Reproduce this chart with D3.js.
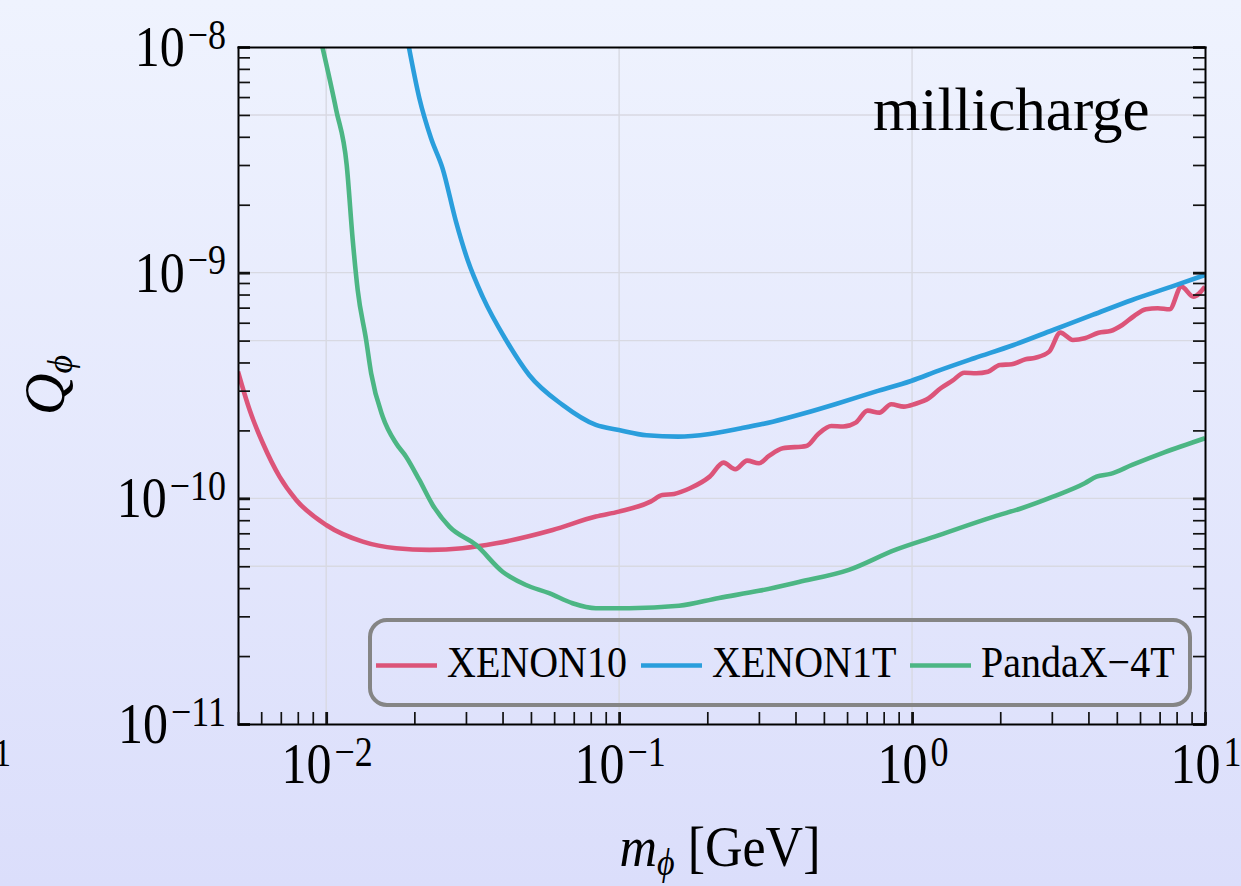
<!DOCTYPE html>
<html lang="en">
<head>
<meta charset="UTF-8">
<title>millicharge</title>
<script src="https://cdn.jsdelivr.net/npm/d3@7"></script>
<style>
body { margin: 0; }
svg { display: block; font-family: "Liberation Serif", "Times New Roman", serif; }
.grid line { stroke: #d8d9e2; stroke-width: 1.4; }
.axis path { stroke: #000; stroke-width: 2; fill: none; }
.axis line { stroke: #111; }
.curve { fill: none; stroke-width: 4.6; stroke-linejoin: round; }
</style>
</head>
<body>
<svg id="chart" width="1241" height="886"></svg>
<script>
// values (m in GeV, Q dimensionless)
var seriesNames = ["XENON10", "XENON1T", "PandaX\u22124T"];
var seriesColors = ["#dc5479", "#2a9edc", "#4cb684"];

var xenon10Mass = [0.005, 0.00548, 0.00608, 0.00693, 0.0079, 0.01, 0.01333, 0.01732, 0.0225, 0.0292, 0.038, 0.0593, 0.0833, 0.0998, 0.128, 0.1404, 0.1541, 0.1745, 0.2038, 0.2272, 0.2493, 0.2736, 0.3003, 0.3247, 0.3619, 0.4358, 0.4784, 0.5301, 0.5816, 0.6424, 0.7054, 0.7737, 0.849, 0.9376, 1.023, 1.14, 1.252, 1.374, 1.508, 1.655, 1.816, 1.994, 2.187, 2.44, 2.637, 2.939, 3.206, 3.54, 3.886, 4.331, 4.756, 5.218, 5.727, 6.285, 6.9, 7.569, 8.307, 9.124, 10];
var xenon10Q = [3.64e-10, 2.46e-10, 1.754e-10, 1.248e-10, 9.84e-11, 7.62e-11, 6.43e-11, 6.01e-11, 5.91e-11, 6.01e-11, 6.32e-11, 7.24e-11, 8.30e-11, 8.73e-11, 9.67e-11, 1.035e-10, 1.046e-10, 1.108e-10, 1.248e-10, 1.439e-10, 1.346e-10, 1.469e-10, 1.43e-10, 1.541e-10, 1.667e-10, 1.707e-10, 1.929e-10, 2.093e-10, 2.08e-10, 2.165e-10, 2.446e-10, 2.397e-10, 2.612e-10, 2.549e-10, 2.62e-10, 2.776e-10, 3.075e-10, 3.323e-10, 3.604e-10, 3.582e-10, 3.64e-10, 3.9e-10, 3.928e-10, 4.13e-10, 4.198e-10, 4.467e-10, 5.422e-10, 5.032e-10, 5.12e-10, 5.42e-10, 5.515e-10, 5.863e-10, 6.428e-10, 6.882e-10, 6.954e-10, 6.88e-10, 8.67e-10, 7.829e-10, 8.67e-10];

var xenon1tMass = [0.0191, 0.0208, 0.0228, 0.02496, 0.02774, 0.0304, 0.0342, 0.0411, 0.0493, 0.0641, 0.0833, 0.0998, 0.124, 0.159, 0.2038, 0.2612, 0.3347, 0.429, 0.55, 0.75, 0.992, 1.232, 1.63, 2.222, 3.029, 4.132, 5.637, 7.69, 10];
var xenon1tQ = [1.02e-8, 5.93e-9, 3.94e-9, 2.90e-9, 1.683e-9, 1.138e-9, 7.83e-10, 5.03e-10, 3.52e-10, 2.594e-10, 2.114e-10, 2.009e-10, 1.904e-10, 1.877e-10, 1.929e-10, 2.045e-10, 2.187e-10, 2.382e-10, 2.62e-10, 2.97e-10, 3.312e-10, 3.679e-10, 4.176e-10, 4.782e-10, 5.572e-10, 6.495e-10, 7.568e-10, 8.67e-10, 9.77e-10];

var pandaxMass = [0.00969, 0.01082, 0.01175, 0.01232, 0.01281, 0.01369, 0.01424, 0.0156, 0.01732, 0.01874, 0.0208, 0.02309, 0.02633, 0.03246, 0.04, 0.0481, 0.0577, 0.0693, 0.0833, 0.1082, 0.1602, 0.2193, 0.3, 0.4108, 0.6085, 0.876, 1.195, 1.904, 2.366, 3.029, 3.886, 4.263, 4.756, 5.637, 7.225, 10];
var pandaxQ = [1.01e-8, 5.26e-9, 3.0e-9, 1.396e-9, 8.38e-10, 5.03e-10, 3.58e-10, 2.30e-10, 1.754e-10, 1.53e-10, 1.206e-10, 9.35e-11, 7.49e-11, 6.22e-11, 4.73e-11, 4.13e-11, 3.80e-11, 3.43e-11, 3.26e-11, 3.26e-11, 3.34e-11, 3.62e-11, 3.89e-11, 4.26e-11, 4.82e-11, 5.91e-11, 6.77e-11, 8.30e-11, 9.04e-11, 1.017e-10, 1.166e-10, 1.248e-10, 1.283e-10, 1.406e-10, 1.594e-10, 1.846e-10];

var xLabelValues = [0.01, 0.1, 1, 10];
var xLabelExponents = ["\u22122", "\u22121", "0", "1"];
var yLabelValues = [1e-8, 1e-9, 1e-10, 1e-11];
var yLabelExponents = ["\u22128", "\u22129", "\u221210", "\u221211"];
var xGridValues = [0.01, 0.1, 1];
var yGridValues = [5e-9, 1e-9, 5e-10, 1e-10, 5e-11];

var W = 1241, H = 886;
var plot = { left: 238, right: 1205, top: 47, bottom: 724 };
var stretch = 1.15;

var svg = d3.select("#chart");

// background
var defs = svg.append("defs");
var grad = defs.append("linearGradient").attr("id", "bg")
  .attr("x1", 0).attr("y1", 0).attr("x2", 0).attr("y2", 1);
grad.append("stop").attr("offset", "0%").attr("stop-color", "#eff3fe");
grad.append("stop").attr("offset", "100%").attr("stop-color", "#dbdefb");
svg.append("rect").attr("width", W).attr("height", H).attr("fill", "url(#bg)");

defs.append("clipPath").attr("id", "clip").append("rect")
  .attr("x", plot.left).attr("y", plot.top)
  .attr("width", plot.right - plot.left).attr("height", plot.bottom - plot.top);

var x = d3.scaleLog().domain([0.005, 10]).range([plot.left, plot.right]);
var y = d3.scaleLog().domain([1e-11, 1e-8]).range([plot.bottom, plot.top]);

function isDecade(v) {
  var l = Math.log10(v);
  return Math.abs(l - Math.round(l)) < 1e-6;
}

// grid
var grid = svg.append("g").attr("class", "grid");
grid.selectAll("line.gx").data(xGridValues).enter().append("line")
  .attr("x1", d => x(d)).attr("x2", d => x(d))
  .attr("y1", plot.top).attr("y2", plot.bottom);
grid.selectAll("line.gy").data(yGridValues).enter().append("line")
  .attr("y1", d => y(d)).attr("y2", d => y(d))
  .attr("x1", plot.left).attr("x2", plot.right);

// curves
var line = d3.line()
  .x(d => x(d[0]))
  .y(d => y(d[1]))
  .curve(d3.curveMonotoneX);

var series = [
  d3.zip(xenon10Mass, xenon10Q),
  d3.zip(xenon1tMass, xenon1tQ),
  d3.zip(pandaxMass, pandaxQ)
];

var curves = svg.append("g").attr("clip-path", "url(#clip)");
curves.selectAll("path").data(series).enter().append("path")
  .attr("class", "curve")
  .attr("d", line)
  .attr("stroke", (d, i) => seriesColors[i]);

// axes with inward ticks
function styleTicks(g) {
  g.selectAll(".tick line")
    .attr("stroke-width", d => isDecade(d) ? 2.8 : 1.7);
}

svg.append("g").attr("class", "axis")
  .attr("transform", "translate(" + plot.left + ",0)")
  .call(d3.axisLeft(y).tickValues(y.ticks()).tickSize(-12).tickSizeOuter(0).tickFormat(""))
  .call(styleTicks);

svg.append("g").attr("class", "axis")
  .attr("transform", "translate(" + plot.right + ",0)")
  .call(d3.axisRight(y).tickValues(y.ticks()).tickSize(-12).tickSizeOuter(0).tickFormat(""))
  .call(styleTicks);

svg.append("g").attr("class", "axis")
  .attr("transform", "translate(0," + plot.bottom + ")")
  .call(d3.axisBottom(x).tickValues(x.ticks()).tickSize(-12).tickSizeOuter(0).tickFormat(""))
  .call(styleTicks);

svg.append("g").attr("class", "axis")
  .attr("transform", "translate(0," + plot.top + ")")
  .call(d3.axisTop(x).tickValues([]).tickSizeOuter(0));

svg.selectAll(".axis .domain").attr("stroke-linecap", "square");

// tick labels 10^n
function powerLabel(g, exp, anchor) {
  var t = g.append("text")
    .attr("text-anchor", anchor)
    .attr("fill", "#000");
  t.append("tspan").attr("font-size", 50).text("10");
  t.append("tspan").attr("font-size", 36).attr("dx", 3).attr("dy", -15).text(exp);
}

svg.selectAll("g.ylab").data(yLabelValues).enter().append("g")
  .attr("class", "ylab")
  .attr("transform", d => "translate(226," + (y(d) + 19) + ") scale(1," + stretch + ")")
  .each(function(d, i) { powerLabel(d3.select(this), yLabelExponents[i], "end"); });

svg.selectAll("g.xlab").data(xLabelValues).enter().append("g")
  .attr("class", "xlab")
  .attr("transform", d => "translate(" + (x(d) + 1) + ",783) scale(1," + stretch + ")")
  .each(function(d, i) { powerLabel(d3.select(this), xLabelExponents[i], "middle"); });

// leftover glyph from the neighbouring panel
svg.append("g").attr("transform", "translate(-6,766) scale(1," + stretch + ")")
  .append("text").attr("font-size", 34).text("1");

// panel title
svg.append("text")
  .attr("x", 873).attr("y", 130)
  .attr("font-size", 61)
  .text("millicharge");

// axis titles
var xt = svg.append("g").attr("transform", "translate(720,866) scale(1,1.1)")
  .append("text").attr("text-anchor", "middle");
xt.append("tspan").attr("font-style", "italic").attr("font-size", 52).text("m");
xt.append("tspan").attr("font-style", "italic").attr("font-size", 34).attr("dy", 8).text("\u03d5");
xt.append("tspan").attr("font-size", 52).attr("dy", -8).text(" [GeV]");

var yt = svg.append("g").attr("transform", "translate(64,385) rotate(-90)")
  .append("text").attr("text-anchor", "middle");
yt.append("tspan").attr("font-style", "italic").attr("font-size", 58).text("Q");
yt.append("tspan").attr("font-style", "italic").attr("font-size", 36).attr("dy", 8).text("\u03d5");

// legend
var legend = svg.append("g");
legend.append("rect")
  .attr("x", 370).attr("y", 620)
  .attr("width", 820).attr("height", 85)
  .attr("rx", 17).attr("ry", 17)
  .attr("fill", "none")
  .attr("stroke", "#858585")
  .attr("stroke-width", 4);

var legendX = [376, 641, 910];
var items = legend.selectAll("g.item").data(seriesNames).enter().append("g")
  .attr("class", "item")
  .attr("transform", (d, i) => "translate(" + legendX[i] + ",0)");
items.append("line")
  .attr("x1", 0).attr("x2", 61)
  .attr("y1", 665.5).attr("y2", 665.5)
  .attr("stroke", (d, i) => seriesColors[i])
  .attr("stroke-width", 4.6);
items.append("g")
  .attr("transform", "translate(71,677) scale(1,1.12)")
  .append("text")
  .attr("font-size", 40)
  .text(d => d);
</script>
</body>
</html>
